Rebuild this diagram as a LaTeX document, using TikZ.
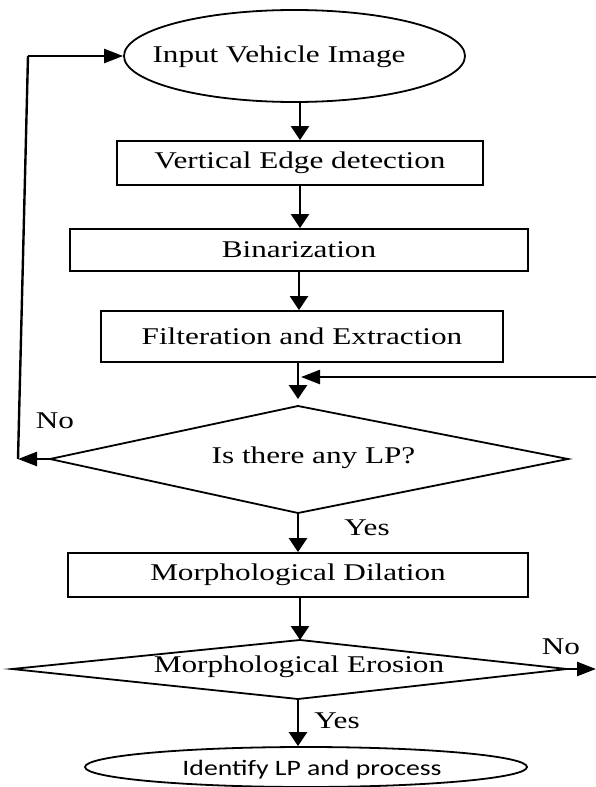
\documentclass[tikz,border=0pt]{standalone}
\usepackage{fontspec}
\setmainfont{Liberation Serif}[FakeStretch=1.3]
\newfontfamily\flowsans{Carlito}[FakeStretch=1.26]
\usetikzlibrary{arrows.meta,shapes.geometric,calc}
\newcommand\flowfont{\fontsize{24}{28}\selectfont}
\begin{document}
\begin{tikzpicture}[x=1pt,y=-1pt,
  outline/.style={draw=black, line width=1.8pt},
  stepbox/.style={outline, rectangle, inner sep=0pt, font=\flowfont},
  oval/.style={outline, ellipse, inner sep=0pt},
  txt/.style={inner sep=0pt, font=\flowfont},
  varr/.style={line width=2.6pt, -{Triangle[length=14pt,width=18pt]}},
  harr/.style={line width=2.4pt, -{Triangle[length=19pt,width=14pt]}},
  plain/.style={line width=2.4pt}]
\useasboundingbox (0,0) rectangle (596,787);

% start / process blocks
\node[oval, minimum width=341pt, minimum height=92pt] (e1) at (294.5,56) {};
\node[txt] (t1) at (279,57) {Input Vehicle Image};
\node[stepbox, minimum width=366pt, minimum height=44pt] (b1) at (300,163) {Vertical Edge detection};
\node[stepbox, minimum width=458pt, minimum height=42pt] (b2) at (299,250) {Binarization};
\node[stepbox, minimum width=402pt, minimum height=51pt] (b3) at (302,336.5) {Filteration and Extraction};

% first decision
\coordinate (d1n) at (298,406);
\coordinate (d1e) at (568,459);
\coordinate (d1s) at (298,513);
\coordinate (d1w) at (50,459);
\draw[outline, line join=miter] (d1n) -- (d1e) -- (d1s) -- (d1w) -- cycle;
\node[txt] (q1) at (313.5,458) {Is there any LP?};

\node[stepbox, minimum width=460pt, minimum height=44pt] (b4) at (298,575) {Morphological Dilation};

% second decision
\coordinate (d2n) at (300,640);
\coordinate (d2e) at (567,669);
\coordinate (d2s) at (298,699);
\coordinate (d2w) at (12,669);
\draw[outline, line join=miter] (d2n) -- (d2e) -- (d2s) -- (d2w) -- cycle;
\node[txt] (q2) at (299,667) {Morphological Erosion};

% end
\node[oval, minimum width=442pt, minimum height=40pt] (e2) at (306,767) {};
\node[inner sep=0pt, font=\flowsans\fontsize{22}{26}\selectfont] (t2) at (312,770) {Identify LP and process};

% main flow
\draw[varr] (b1.north |- e1.south) -- (b1.north);
\draw[varr] (b1.south) -- (b1.south |- b2.north);
\draw[varr] (b2.south) -- (b2.south |- b3.north);
\draw[varr, shorten >=7pt] (d1n |- b3.south) -- (d1n);
\draw[varr] (d1s) -- (d1s |- b4.north);
\draw[varr] (d2n |- b4.south) -- (d2n);
\draw[varr] (d2s) -- (d2s |- e2.north);

% incoming branch from the right
\coordinate (rin) at (596,377);
\coordinate (rjoin) at (301,377);
\draw[harr] (rin) -- (rjoin);

% "No" loop back to the input
\coordinate (lb) at (18,459);
\coordinate (lt) at (28,56);
\draw[harr] (d1w) -- (lb);
\draw[plain] (lb) -- (lt);
\draw[harr] (lt) -- (e1.west);

% "No" exit of the second decision
\coordinate (rout) at (596,669);
\draw[harr] (d2e) -- (rout);

% branch labels
\node[txt] (no1) at (55,421) {No};
\node[txt] (yes1) at (367,528) {Yes};
\node[txt] (no2) at (561,647) {No};
\node[txt] (yes2) at (337,721) {Yes};
\end{tikzpicture}
\end{document}
